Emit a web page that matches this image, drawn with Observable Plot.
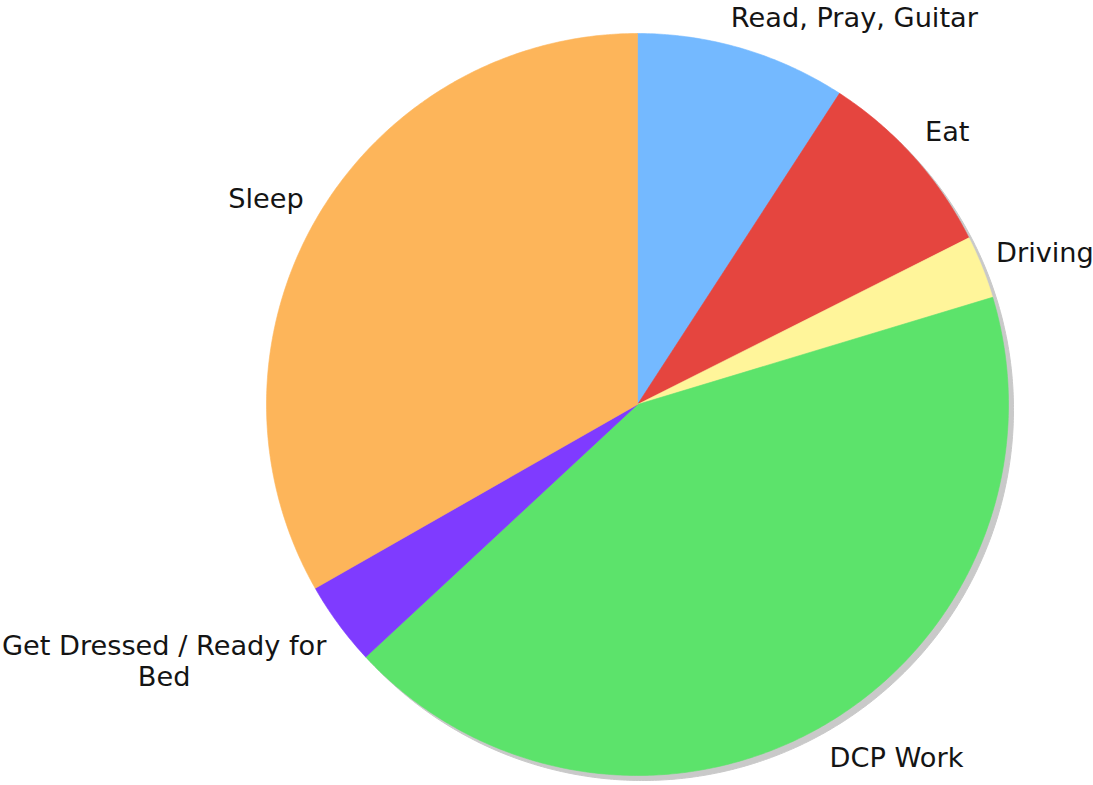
<!DOCTYPE html>
<html>
<head>
<meta charset="utf-8">
<script src="https://cdn.jsdelivr.net/npm/d3@7"></script>
<script src="https://cdn.jsdelivr.net/npm/@observablehq/plot@0.6"></script>
<style>
  html, body { margin: 0; padding: 0; background: #ffffff; }
  #chart { width: 1093px; height: 785px; }
  #chart svg { display: block; }
</style>
</head>
<body>
<div id="chart"></div>
<script>
// ---- data (hours per day) ----
const categories = ["Read, Pray, Guitar", "Eat", "Driving", "DCP Work", "Get Dressed / Ready for\nBed", "Sleep"];
const hours = [2.2, 2.02, 0.66, 10.26, 0.88, 7.98];
const colors = ["#74b9ff", "#e5453f", "#fff59a", "#5ce36b", "#7f3bff", "#fdb55a"];

// ---- layout ----
const W = 1093, H = 785;
const CX = 637, CY = 404, RPX = 371;        // pie centre and radius in pixels
const FS = 27.2, LH = 31;                   // label font size and line height
const LABEL_R = 386;                        // radius where the label's nearest corner sits
const FONT = '"DejaVu Sans", Verdana, sans-serif';

const table = categories.map((label, i) => ({label, value: hours[i]}));
const arcs = d3.pie().sort(null).value(d => d.value).startAngle(0).endAngle(2 * Math.PI)(table);

// slice outlines in data units (radius = 1), y pointing up
const sliceRows = [];
for (const a of arcs) {
  const label = a.data.label;
  sliceRows.push({label, x: 0, y: 0});
  const n = Math.max(2, Math.ceil((a.endAngle - a.startAngle) / (Math.PI / 360)));
  for (let k = 0; k <= n; k++) {
    const t = a.startAngle + (a.endAngle - a.startAngle) * k / n;
    sliceRows.push({label, x: Math.sin(t), y: Math.cos(t)});
  }
  sliceRows.push({label, x: 0, y: 0});
}

// outside labels: nearest corner of the text box on a circle just outside the pie
const ctx = document.createElement("canvas").getContext("2d");
ctx.font = `${FS}px ${FONT}`;
const labelRows = arcs.map(a => {
  const m = (a.startAngle + a.endAngle) / 2;
  const ux = Math.sin(m), uy = Math.cos(m);
  const lines = a.data.label.split("\n");
  const w = d3.max(lines, s => ctx.measureText(s).width);
  const h = FS * 1.28 + (lines.length - 1) * LH;
  // labels close to the vertical axis slide back toward the centre line
  const px = LABEL_R * ux + Math.sign(ux) * w * (0.5 - Math.max(0, 0.35 - Math.abs(ux)));
  const py = LABEL_R * uy + Math.sign(uy) * (h / 2) * Math.min(1, 1.4 * Math.abs(uy));
  return {label: a.data.label, x: px / RPX, y: py / RPX};
});

const plot = Plot.plot({
  width: W,
  height: H,
  margin: 0,
  x: {domain: [-CX / RPX, (W - CX) / RPX], axis: null},
  y: {domain: [-(H - CY) / RPX, CY / RPX], axis: null},
  color: {domain: categories, range: colors},
  style: {background: "#ffffff", fontFamily: FONT, overflow: "visible"},
  marks: [
    // drop shadow
    Plot.line(sliceRows, {x: "x", y: "y", z: "label", fill: "#c9c9c9", stroke: "#c9c9c9", strokeWidth: 1, dx: 5, dy: 5}),
    // slices
    Plot.line(sliceRows, {x: "x", y: "y", z: "label", fill: "label", stroke: "label", strokeWidth: 0.6}),
    // labels
    Plot.text(labelRows, {
      x: "x", y: "y", text: "label",
      textAnchor: "middle", lineAnchor: "middle", lineHeight: LH / FS,
      fontSize: FS, fill: "#141414"
    })
  ]
});

document.getElementById("chart").appendChild(plot);
</script>
</body>
</html>
